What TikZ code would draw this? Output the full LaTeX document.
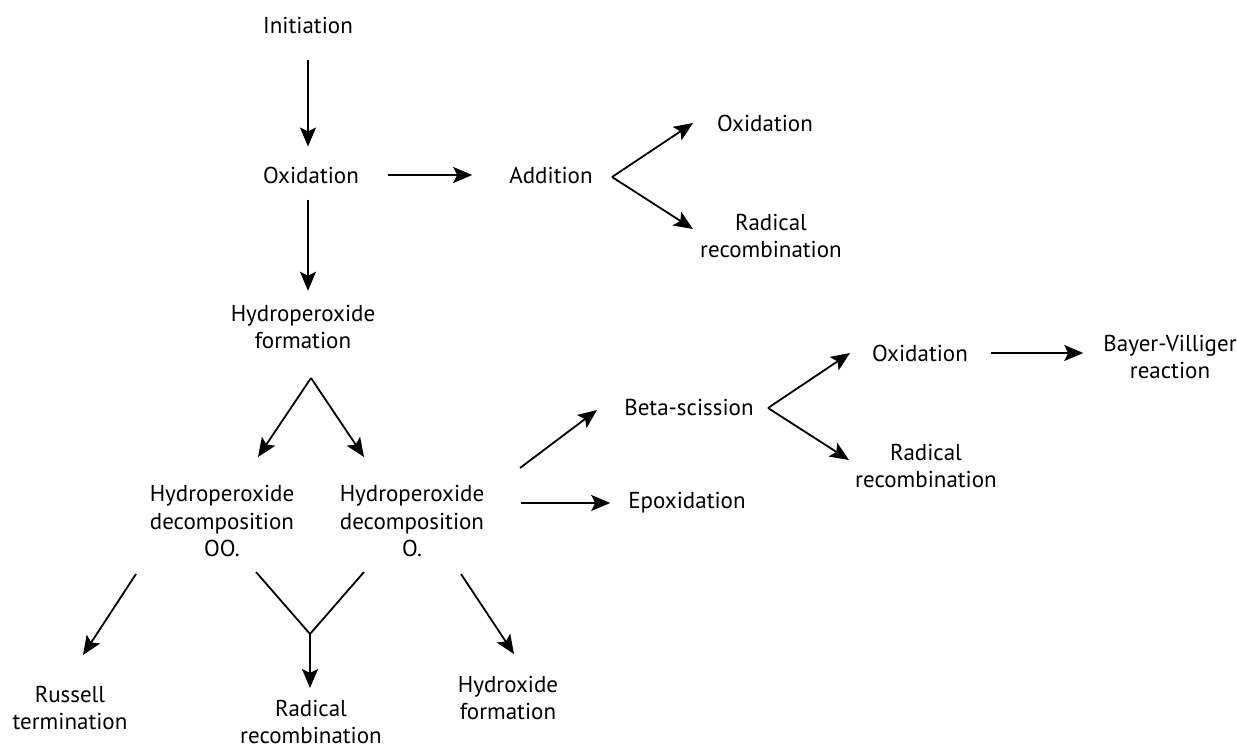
\documentclass[tikz,border=0pt]{standalone}
\usepackage{fontspec}
\setmainfont{PT Sans}
\usetikzlibrary{arrows.meta}
\begin{document}
\begin{tikzpicture}[x=1pt,y=-1pt,
  lbl/.style={align=center,inner sep=0pt,font=\fontsize{23}{27.5}\selectfont},
  flow/.style={-{Stealth[length=19pt,width=16pt,inset=4pt]},line width=1.8pt}]
\useasboundingbox (0,0) rectangle (1237,750);
% labels
\node[lbl] (ini) at (308,25) {Initiation};
\node[lbl] (oxa) at (311,175) {Oxidation};
\node[lbl] (add) at (551,175) {Addition};
\node[lbl] (oxb) at (765,123) {Oxidation};
\node[lbl] (rra) at (771,236) {Radical\\recombination};
\node[lbl] (hpf) at (303,327) {Hydroperoxide\\formation};
\node[lbl] (hdoo) at (222,521) {Hydroperoxide\\decomposition\\OO.};
\node[lbl] (hdo) at (412,521) {Hydroperoxide\\decomposition\\O.};
\node[lbl] (beta) at (689,407) {Beta-scission};
\node[lbl] (epo) at (687,503) {Epoxidation};
\node[lbl] (oxc) at (920,353) {Oxidation};
\node[lbl] (bv) at (1170,357) {Bayer-Villiger\\reaction};
\node[lbl] (rrb) at (926,466) {Radical\\recombination};
\node[lbl] (rus) at (70,708) {Russell\\termination};
\node[lbl] (rrc) at (311,722) {Radical\\recombination};
\node[lbl] (hyd) at (508,698) {Hydroxide\\formation};
% fork points and free ends
\coordinate (fadd) at (612,177);
\coordinate (faddu) at (693,123);
\coordinate (faddd) at (693,229);
\coordinate (fhpf) at (311,378);
\coordinate (fhpfl) at (258,457);
\coordinate (fhpfr) at (364,457);
\coordinate (fbeta) at (768,408);
\coordinate (fbetau) at (850,353);
\coordinate (fbetad) at (849,460);
\coordinate (bs0) at (520,468);
\coordinate (bs1) at (597,410);
\coordinate (ru0) at (136,574);
\coordinate (ru1) at (83,655);
\coordinate (yl) at (256,572);
\coordinate (yr) at (364,572);
\coordinate (frr) at (310,634);
\coordinate (frrd) at (310,688);
\coordinate (hy0) at (461,574);
\coordinate (hy1) at (514,654);
% arrows
\draw[flow,shorten <=27pt,shorten >=20pt] (ini.south) -- (ini.south |- oxa.north);
\draw[flow,shorten <=29pt,shorten >=37pt] (oxa.east) -- (add.west);
\draw[flow,shorten <=16pt,shorten >=14pt] (ini.south |- oxa.south) -- (ini.south |- hpf.north);
\draw[flow] (fadd) -- (faddu);
\draw[flow] (fadd) -- (faddd);
\draw[flow] (fhpf) -- (fhpfl);
\draw[flow] (fhpf) -- (fhpfr);
\draw[flow] (bs0) -- (bs1);
\draw[flow,shorten <=37pt,shorten >=18pt] (hdo.east |- epo.west) -- (epo.west);
\draw[flow] (fbeta) -- (fbetau);
\draw[flow] (fbeta) -- (fbetad);
\draw[flow,shorten <=23pt,shorten >=20pt] (oxc.east) -- (oxc.east -| bv.west);
\draw[flow] (ru0) -- (ru1);
\draw[line width=1.8pt] (yl) -- (frr) -- (yr);
\draw[flow] (frr) -- (frrd);
\draw[flow] (hy0) -- (hy1);
\end{tikzpicture}
\end{document}
